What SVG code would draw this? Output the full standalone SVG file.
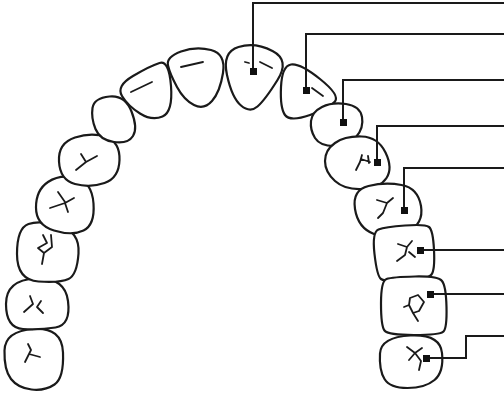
<svg xmlns="http://www.w3.org/2000/svg" width="504" height="394" viewBox="0 0 504 394">
<style>
.t{fill:#fff;stroke:#1a1a1a;stroke-width:2.2;stroke-linejoin:round}
.f{fill:none;stroke:#1a1a1a;stroke-width:1.8;stroke-linecap:round;stroke-linejoin:round}
.l{fill:none;stroke:#1a1a1a;stroke-width:2}
.d{fill:#111}
</style>
<rect width="504" height="394" fill="#fff"/>
<g id="teeth-left">
<g id="l-molar3"><path class="t" d="M4.5,350.5 Q5,331 33.5,329 Q62,327 63,352.5 Q64,378 54.5,384.5 Q45,391 31.5,389.5 Q18,388 11,379 Q4,370 4.5,350.5 Z"/><path class="f" d="M25,362 L31,350 M29,354 L40,357 M31,350 L28,344"/></g>
<g id="l-molar2"><path class="t" d="M6,304 Q6,280 35.5,278.5 Q65,277 68,301 Q71,325 55.5,327.5 Q40,330 23,329 Q6,328 6,304 Z"/><path class="f" d="M30,296 L33,304 L24,312 M41,301 L37,307 L43,313"/></g>
<g id="l-molar1"><path class="t" d="M17,254 Q17,228 28.5,224 Q40,220 60,226 Q80,232 78.5,253.5 Q77,275 68.5,279 Q60,283 38.5,281.5 Q17,280 17,254 Z"/><path class="f" d="M43,235 L47,243 L38,248 L44,253 M51,235 L52,247 L44,253 L42,264"/></g>
<g id="l-premolar2"><path class="t" d="M36,207.5 Q36,190 48,182 Q60,174 76,178 Q92,182 93.5,203.5 Q95,225 83.5,230.5 Q72,236 54,230.5 Q36,225 36,207.5 Z"/><path class="f" d="M58,192 L65,202 M74,198 L65,203 L50,208 M65,203 L68,212"/></g>
<g id="l-premolar1"><path class="t" d="M59,161.5 Q58,143 75,137.5 Q92,132 106,137 Q120,142 119.5,160 Q119,178 104.5,183 Q90,188 75,184 Q60,180 59,161.5 Z"/><path class="f" d="M81,154 L86,162 M97,156 L86,162 L76,170"/></g>
<g id="l-canine"><path class="t" d="M92.5,108 Q94,98 109.5,96.5 Q125,95 131.5,111.5 Q138,128 133,136 Q128,144 114,142 Q100,140 95.5,129 Q91,118 92.5,108 Z"/></g>
<g id="l-lateral"><path class="t" d="M122,96 Q116,86 133,76 Q150,66 159.5,63 Q169,60 171,86 Q173,112 162.5,116.5 Q152,121 140,113.5 Q128,106 122,96 Z"/><path class="f" d="M131,92 L152,82"/></g>
<g id="l-central"><path class="t" d="M168,65.5 Q166,57 181,51.5 Q196,46 211,50 Q226,54 223,73 Q220,92 212,101 Q204,110 194,105 Q184,100 177,87 Q170,74 168,65.5 Z"/><path class="f" d="M181,67 L203,62"/></g>
</g>
<g id="teeth-right">
<g id="r-central"><path class="t" d="M227,75 Q222,52 238.5,47 Q255,42 272.5,51 Q290,60 277.5,80 Q265,100 257.5,106.5 Q250,113 241,105.5 Q232,98 227,75 Z"/><path class="f" d="M245,62 L249,63 M260,62 L272,68"/></g>
<g id="r-lateral"><path class="t" d="M281,87 Q282,66 291,64.5 Q300,63 320,79 Q340,95 335,101.5 Q330,108 310,115 Q290,122 285,115 Q280,108 281,87 Z"/><path class="f" d="M312,88 L323,96"/></g>
<g id="r-canine"><path class="t" d="M311,121 Q312,112 322,107 Q332,102 346,104 Q360,106 362,117 Q364,128 356,137 Q348,146 334,146 Q320,146 315,138 Q310,130 311,121 Z"/></g>
<g id="r-premolar1"><path class="t" d="M325,161 Q325,150 335,143 Q345,136 361.5,136.5 Q378,137 385.5,152.5 Q393,168 386.5,178 Q380,188 362.5,189 Q345,190 335,181 Q325,172 325,161 Z"/><path class="f" d="M362,155 L360,162 L356,170 M361,159 L370,162 M368,156 L369,163"/></g>
<g id="r-premolar2"><path class="t" d="M355,209 Q352,190 368.5,186 Q385,182 401.5,185 Q418,188 421,206 Q424,224 407,232 Q390,240 374,234 Q358,228 355,209 Z"/><path class="f" d="M377,200 L387,203 L393,198 M387,203 L383,213 L378,218"/></g>
<g id="r-molar1"><path class="t" d="M374.5,254 Q372,232 378.5,229.5 Q385,227 405,225.5 Q425,224 429,227 Q433,230 434,250 Q435,270 431.5,274.5 Q428,279 406.5,280.5 Q385,282 381,279 Q377,276 374.5,254 Z"/><path class="f" d="M398,244 L407,247 L412,241 M407,247 L405,255 L397,261 M409,252 L415,257"/></g>
<g id="r-molar2"><path class="t" d="M381,303.5 Q381,281 386.5,279 Q392,277 415,276.5 Q438,276 442,281 Q446,286 446.5,307 Q447,328 443.5,331.5 Q440,335 414,335 Q388,335 384.5,330.5 Q381,326 381,303.5 Z"/><path class="f" d="M410,298 L418,295 L424,302 L419,311 L413,313 L409,305 Z M413,313 L418,321 M409,305 L404,307"/></g>
<g id="r-molar3"><path class="t" d="M380,353.5 Q381,337 410.5,335.5 Q440,334 442,353 Q444,372 434.5,380 Q425,388 407.5,388 Q390,388 384.5,379 Q379,370 380,353.5 Z"/><path class="f" d="M407,347 L415,353 L422,348 M415,353 L409,360 M415,353 L421,361 L419,370"/></g>
</g>
<g id="connectors">
<path class="l" d="M504,3 H253 V71"/>
<path class="l" d="M504,34 H306 V90"/>
<path class="l" d="M504,80 H343 V122"/>
<path class="l" d="M504,126 H377 V162"/>
<path class="l" d="M504,168 H404 V210"/>
<path class="l" d="M504,250 H420"/>
<path class="l" d="M504,294 H430"/>
<path class="l" d="M504,336 H466 V358 H426"/>
<rect class="d" x="250" y="68" width="7" height="7"/>
<rect class="d" x="303" y="87" width="7" height="7"/>
<rect class="d" x="340" y="119" width="7" height="7"/>
<rect class="d" x="374" y="159" width="7" height="7"/>
<rect class="d" x="401" y="207" width="7" height="7"/>
<rect class="d" x="417" y="247" width="7" height="7"/>
<rect class="d" x="427" y="291" width="7" height="7"/>
<rect class="d" x="423" y="355" width="7" height="7"/>
</g>
</svg>
